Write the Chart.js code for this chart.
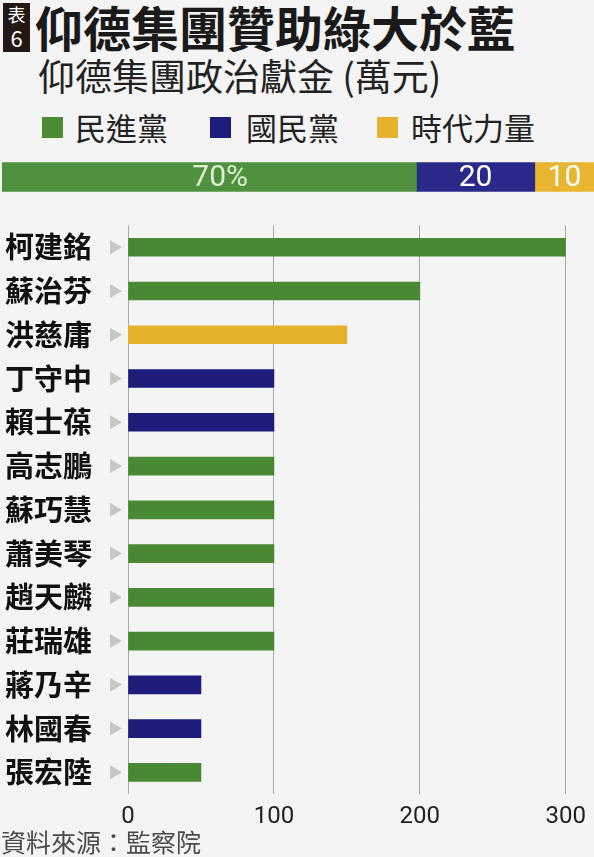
<!DOCTYPE html>
<html>
<head>
<meta charset="utf-8">
<script src="https://cdn.jsdelivr.net/npm/chart.js@4.4.1/dist/chart.umd.min.js"></script>
<style>
  html, body { margin:0; padding:0; background:#f4f4f4; }
  body { width:594px; height:857px; position:relative; overflow:hidden;
         font-family:"Noto Sans CJK TC","Noto Sans",sans-serif; color:#1a1a1a; }
  .abs { position:absolute; white-space:nowrap; }
  #badge { left:3px; top:3px; width:27px; height:49px; background:#231815; color:#fff;
           text-align:center; font-size:18px; line-height:22px; }
  #badge span { display:block; }
  #title { left:35px; top:0px; font-size:48px; line-height:52px; font-weight:bold; }
  #subtitle { left:38px; top:53px; font-size:37px; line-height:44px; color:#222; }
  .sw { width:21px; height:21px; top:117px; }
  .lg { top:107px; font-size:31px; line-height:40px; color:#222; }
  #source { left:1px; top:826px; font-size:25px; line-height:30px; color:#4a4a4a; }
  #shareWrap { left:0; top:158px; width:594px; height:38px; }
  #mainWrap { left:0; top:180px; width:594px; height:663px; }
</style>
</head>
<body>
<div id="badge" class="abs"><span>表</span><span style="font-size:22px;line-height:24px">6</span></div>
<div id="title" class="abs">仰德集團贊助綠大於藍</div>
<div id="subtitle" class="abs">仰德集團政治獻金 (萬元)</div>

<div class="abs sw" style="left:42px;background:#4b8b35"></div>
<div class="abs lg" style="left:75px">民進黨</div>
<div class="abs sw" style="left:210px;background:#1f1c7c"></div>
<div class="abs lg" style="left:246px">國民黨</div>
<div class="abs sw" style="left:377px;background:#e6b12c"></div>
<div class="abs lg" style="left:411px">時代力量</div>

<div id="shareWrap" class="abs"><canvas id="share"></canvas></div>
<div id="mainWrap" class="abs"><canvas id="chart"></canvas></div>
<div id="source" class="abs">資料來源：監察院</div>

<script>
// parties and colours
var parties = ["民進黨", "國民黨", "時代力量"];
var partyColors = ["#4a8933", "#1e1b7b", "#e6b12a"];
var shareColors = ["#4f913f", "#2a298a", "#e8b530"];

// share of donations by party (%)
var shares = [70, 20, 10];
var shareLabels = ["70%", "20", "10"];

// donations per legislator (萬元)
var names = ["柯建銘", "蘇治芬", "洪慈庸", "丁守中", "賴士葆", "高志鵬", "蘇巧慧",
             "蕭美琴", "趙天麟", "莊瑞雄", "蔣乃辛", "林國春", "張宏陸"];
var amounts = [300, 200, 150, 100, 100, 100, 100, 100, 100, 100, 50, 50, 50];
var partyOf = [0, 0, 2, 1, 1, 0, 0, 0, 0, 0, 1, 1, 0];

var xTicks = [0, 100, 200, 300];

Chart.defaults.animation = false;

// --- share bar ---
var shareSets = parties.map(function(p, i){
    return {
        label: p,
        data: [shares[i]],
        backgroundColor: shareColors[i],
        barThickness: 29,
        borderWidth: 0
    };
});

var shareLabelPlugin = {
    id: "shareLabels",
    afterDatasetsDraw: function(chart){
        var ctx = chart.ctx;
        ctx.save();
        ctx.font = "30px 'Liberation Sans Narrow', 'Roboto', sans-serif";
        ctx.textBaseline = "middle";
        chart.data.datasets.forEach(function(ds, i){
            var el = chart.getDatasetMeta(i).data[0];
            var cx = (el.x + el.base) / 2;
            var txt = shareLabels[i];
            var num = txt.replace("%", "");
            ctx.fillStyle = i === 0 ? "#dcefcf" : "#ffffff";
            ctx.textAlign = "center";
            ctx.fillText(num, cx, el.y + 1);
            if (txt.indexOf("%") >= 0) {
                ctx.textAlign = "left";
                ctx.fillText("%", cx + ctx.measureText(num).width / 2, el.y + 1);
            }
        });
        ctx.restore();
    }
};

new Chart(document.getElementById("share"), {
    type: "bar",
    data: { labels: ["share"], datasets: shareSets },
    options: {
        indexAxis: "y",
        responsive: true,
        maintainAspectRatio: false,
        layout: { padding: { left: 2, right: 0, top: 0, bottom: 0 } },
        plugins: { legend: { display: false }, tooltip: { enabled: false } },
        scales: {
            x: { stacked: true, min: 0, max: 100, display: false },
            y: { stacked: true, display: false }
        }
    },
    plugins: [shareLabelPlugin]
});

// --- main chart ---
var triPlugin = {
    id: "triangles",
    afterDraw: function(chart){
        var ctx = chart.ctx;
        var ys = chart.scales.y;
        ctx.save();
        ctx.fillStyle = "#c6c6c6";
        names.forEach(function(n, i){
            var y = ys.getPixelForValue(i);
            ctx.beginPath();
            ctx.moveTo(110, y - 7);
            ctx.lineTo(122, y);
            ctx.lineTo(110, y + 7);
            ctx.closePath();
            ctx.fill();
        });
        ctx.restore();
    }
};

new Chart(document.getElementById("chart"), {
    type: "bar",
    data: {
        labels: names,
        datasets: [{
            data: amounts,
            backgroundColor: partyOf.map(function(p){ return partyColors[p]; }),
            barThickness: 18,
            borderWidth: 0
        }]
    },
    options: {
        indexAxis: "y",
        responsive: true,
        maintainAspectRatio: false,
        layout: { padding: { left: 0, right: 25, top: 15, bottom: 4 } },
        plugins: { legend: { display: false }, tooltip: { enabled: false } },
        scales: {
            x: {
                min: 0, max: 300,
                afterBuildTicks: function(s){ s.ticks = xTicks.map(function(v){ return { value: v }; }); },
                grid: { color: "#a9a9a9", lineWidth: 1, drawTicks: false },
                border: { display: false },
                ticks: {
                    padding: 8,
                    color: "#222",
                    font: { family: "'Liberation Sans Narrow', 'Roboto', sans-serif", size: 24 }
                }
            },
            y: {
                afterFit: function(s){ s.width = 128; },
                grid: { display: false },
                border: { display: false },
                ticks: {
                    padding: 28,
                    color: "#111",
                    font: { family: "'Noto Sans CJK TC', sans-serif", size: 29, weight: "bold" }
                }
            }
        }
    },
    plugins: [triPlugin]
});
</script>
</body>
</html>
